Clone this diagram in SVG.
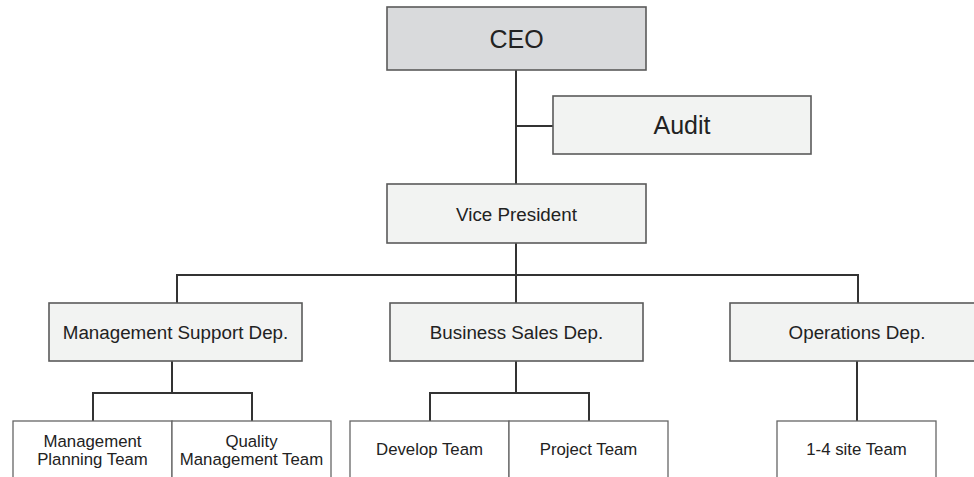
<svg xmlns="http://www.w3.org/2000/svg" width="974" height="477" viewBox="0 0 974 477">
<style>
  .box{fill:#f2f3f2;stroke:#5a5a5a;stroke-width:1.6}
  .ceo{fill:#d9dadc;stroke:#5a5a5a;stroke-width:1.6}
  .team{fill:#ffffff;stroke:#666666;stroke-width:1.3}
  .conn{fill:none;stroke:#333333;stroke-width:2}
  text{font-family:"Liberation Sans",Arial,sans-serif;fill:#222222;text-anchor:middle}
  .t1{font-size:25px}
  .t2{font-size:18.8px}
  .t3{font-size:16.8px}
</style>
<rect width="974" height="477" fill="#ffffff"/>
<g id="connectors">
  <path class="conn" d="M516 70 V184"/>
  <path class="conn" d="M516 126 H553"/>
  <path class="conn" d="M516 243 V275"/>
  <path class="conn" d="M177 303 V275 H858 V303"/>
  <path class="conn" d="M516 275 V303"/>
  <path class="conn" d="M172 361 V393"/>
  <path class="conn" d="M93 421 V393 H252 V421"/>
  <path class="conn" d="M516 361 V393"/>
  <path class="conn" d="M430 421 V393 H589 V421"/>
  <path class="conn" d="M857 361 V421"/>
</g>
<g id="ceo">
  <rect class="ceo" x="387" y="7" width="259" height="63"/>
  <text class="t1" x="516.5" y="47.5">CEO</text>
</g>
<g id="audit">
  <rect class="box" x="553" y="96" width="258" height="58"/>
  <text class="t1" x="682" y="133.5">Audit</text>
</g>
<g id="vice-president">
  <rect class="box" x="387" y="184" width="259" height="59"/>
  <text class="t2" x="516.5" y="220.5">Vice President</text>
</g>
<g id="management-support">
  <rect class="box" x="49" y="303" width="253" height="58"/>
  <text class="t2" x="175.5" y="339">Management Support Dep.</text>
</g>
<g id="business-sales">
  <rect class="box" x="390" y="303" width="253" height="58"/>
  <text class="t2" x="516.5" y="339">Business Sales Dep.</text>
</g>
<g id="operations">
  <rect class="box" x="730" y="303" width="260" height="58"/>
  <text class="t2" x="857" y="339">Operations Dep.</text>
</g>
<g id="management-planning">
  <rect class="team" x="13" y="421" width="159" height="70"/>
  <text class="t3" x="92.5" y="446.5">Management</text>
  <text class="t3" x="92.5" y="464.5">Planning Team</text>
</g>
<g id="quality-management">
  <rect class="team" x="172" y="421" width="159" height="70"/>
  <text class="t3" x="251.5" y="446.5">Quality</text>
  <text class="t3" x="251.5" y="464.5">Management Team</text>
</g>
<g id="develop-team">
  <rect class="team" x="350" y="421" width="159" height="70"/>
  <text class="t3" x="429.5" y="455">Develop Team</text>
</g>
<g id="project-team">
  <rect class="team" x="509" y="421" width="159" height="70"/>
  <text class="t3" x="588.5" y="455">Project Team</text>
</g>
<g id="site-team">
  <rect class="team" x="777" y="421" width="159" height="70"/>
  <text class="t3" x="856.5" y="455">1-4 site Team</text>
</g>
</svg>
